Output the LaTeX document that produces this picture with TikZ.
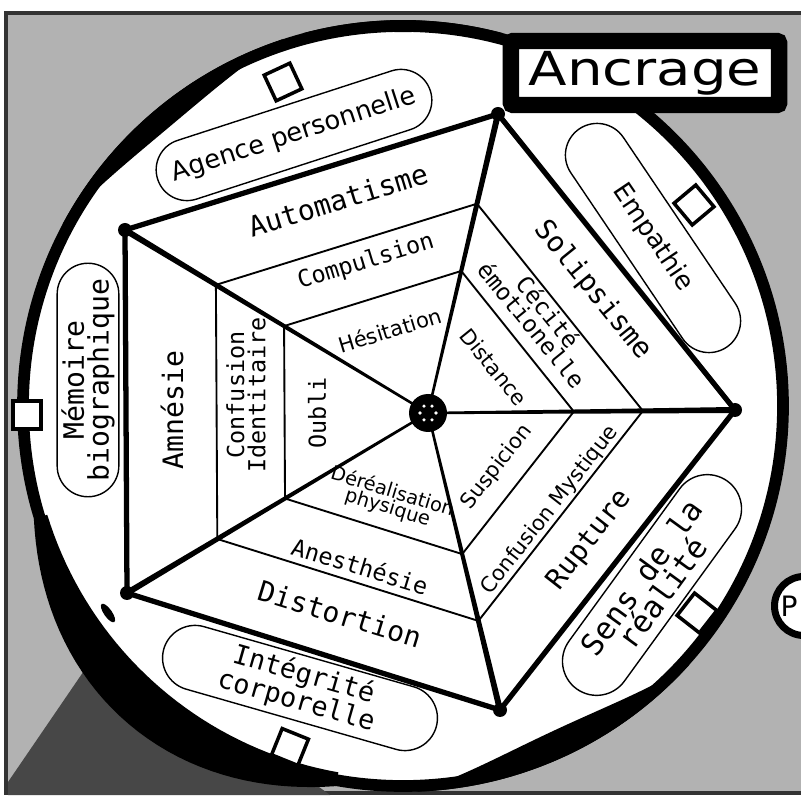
\documentclass[tikz,border=0pt]{standalone}
\usepackage{fontspec}
\setmainfont{DejaVu Sans}
\newfontfamily\monofont{DejaVu Sans Mono}
\newfontfamily\widefont[FakeStretch=1.2]{DejaVu Sans}
\usetikzlibrary{calc, shapes.misc}

\begin{document}
\begin{tikzpicture}[
    x=0.03cm, y=-0.03cm,
    edge/.style={line width=4.5pt, line join=round},
    band/.style={line width=1.6pt},
    biglabel/.style={font=\monofont\fontsize{24}{24}\selectfont},
    midlabel/.style={font=\monofont\fontsize{20}{18}\selectfont, align=center},
    smalllabel/.style={font=\fontsize{18}{15}\selectfont, align=center},
    pill/.style={rounded rectangle, draw, line width=1.2pt, fill=white, align=center, inner sep=0pt},
    monopill/.style={pill, font=\monofont\fontsize{23}{21}\selectfont},
    sanspill/.style={pill, font=\fontsize{22}{22}\selectfont},
    box/.style={draw, line width=3pt, fill=white, minimum size=0.85cm, inner sep=0pt}
  ]
  \clip (0,0) rectangle (801,796);
  \fill[white] (0,0) rectangle (801,796);

  % --- newspaper backdrop ---
  \filldraw[fill=black!30, draw=black!80, line width=4.2pt] (6,13) rectangle (830,793);
  \fill[black!72] (8,782) -- (90,662) -- (200,700) -- (330,795) -- (8,795) -- cycle;

  % --- dial ---
  \coordinate (c) at (403,406);
  \filldraw[fill=white, draw=black, line width=10pt] (c) circle (380);
  % ink spreading out of the rim, lower left
  \fill plot[domain=100:163, samples=40] ({403+(386+34*sin(180*(\x-100)/63))*cos(\x)},
                                        {406+(386+34*sin(180*(\x-100)/63))*sin(\x)})
    -- plot[domain=163:100, samples=40] ({403+372*cos(\x)}, {406+372*sin(\x)}) -- cycle;
  % heavier ink on other parts of the rim
  \foreach \s/\e/\w in {42/88/28, 208/252/22, 255/285/12} {
    \fill plot[domain=\s:\e, samples=30] ({403+386*cos(\x)}, {406+386*sin(\x)})
      -- plot[domain=\e:\s, samples=30] ({403+(386-\w*sin(180*(\x-\s)/(\e-\s)))*cos(\x)},
                                         {406+(386-\w*sin(180*(\x-\s)/(\e-\s)))*sin(\x)}) -- cycle;
  }
  \fill[rotate around={-55:(108,613)}] (108,613) ellipse (11 and 4);

  % --- pentagon ---
  \coordinate (hub) at (428,413);
  \coordinate (top) at (498,114);
  \coordinate (right) at (735,410);
  \coordinate (bottom) at (500,710);
  \coordinate (lowleft) at (127,593);
  \coordinate (upleft) at (125,230);

  \foreach \a/\b in {upleft/top, top/right, right/bottom, bottom/lowleft, lowleft/upleft} {
    \draw[band] ($(hub)!0.70!(\a)$) -- ($(hub)!0.70!(\b)$);
    \draw[band] ($(hub)!0.475!(\a)$) -- ($(hub)!0.475!(\b)$);
  }
  \foreach \v in {top, right, bottom, lowleft, upleft}
    \fill ($(hub)!1pt!90:(\v)$) -- ($(\v)!2.6pt!-90:(hub)$) -- ($(\v)!2.6pt!90:(hub)$) -- ($(hub)!1pt!-90:(\v)$) -- cycle;
  \draw[edge] (upleft) -- (top) -- (right) -- (bottom) -- (lowleft) -- cycle;
  \foreach \v in {top, right, bottom, lowleft, upleft}
    \fill (\v) circle (7);
  \fill (hub) circle (19);
  \foreach \k in {0,60,...,300}
    \fill[white] ($(hub)+(\k:8)$) circle (1.8);

  % --- band labels ---
  \node[biglabel, rotate=17] (automatisme) at (338,200) {Automatisme};
  \node[midlabel, rotate=17] (compulsion) at (366,262) {Compulsion};
  \node[smalllabel, rotate=17] (hesitation) at (390,330) {Hésitation};

  \node[biglabel, rotate=90] (amnesie) at (172,410) {Amnésie};
  \node[midlabel, rotate=90] (confusionid) at (246,395) {Confusion\\Identitaire};
  \node[midlabel, rotate=90] (oubli) at (317,413) {Oubli};

  \node[biglabel, rotate=-17] (distortion) at (340,614) {Distortion};
  \node[midlabel, rotate=-17] (anesthesie) at (360,566) {Anesthésie};
  \node[smalllabel, rotate=-17, font=\fontsize{16.5}{14}\selectfont] (derealisation) at (390,500) {Déréalisation\\physique};

  \node[biglabel, rotate=52] (rupture) at (590,540) {Rupture};
  \node[smalllabel, rotate=52] (confusionmy) at (550,510) {Confusion Mystique};
  \node[smalllabel, rotate=52] (suspicion) at (497,467) {Suspicion};

  \node[biglabel, rotate=-51] (solipsisme) at (593,290) {Solipsisme};
  \node[midlabel, rotate=-51] (cecite) at (540,318) {Cécité\\émotionelle};
  \node[smalllabel, rotate=-51] (distance) at (494,367) {Distance};

  % --- outer pills ---
  \node[sanspill, rotate=18, minimum width=8.6cm, minimum height=1.85cm] (agence) at (294,135) {Agence personnelle};
  \node[sanspill, rotate=-56, minimum width=7.9cm, minimum height=1.9cm] (empathie) at (653,238) {Empathie};
  \node[monopill, rotate=90, minimum width=7cm, minimum height=1.85cm, font=\monofont\fontsize{24}{21}\selectfont] (memoire) at (88,380) {Mémoire\\biographique};
  \node[monopill, rotate=54, minimum width=7.7cm, minimum height=2.05cm, font=\monofont\fontsize{26}{22}\selectfont] (sens) at (652,585) {Sens de la\\réalité};
  \node[monopill, rotate=-16, minimum width=8.5cm, minimum height=1.95cm] (integrite) at (300,688) {Intégrité\\corporelle};

  % --- small squares on the rim ---
  \node[box, rotate=25] (boxagence) at (283,82) {};
  \node[box] (boxmemoire) at (27,415) {};
  \node[box, rotate=40] (boxempathie) at (694,205) {};
  \node[box, rotate=-38] (boxsens) at (697,613) {};
  \node[box, rotate=-22] (boxintegrite) at (290,747) {};

  % --- title and side tab ---
  \node[draw, line width=14pt, fill=white, rounded corners=2pt, minimum width=8.05cm, minimum height=1.92cm,
        font=\widefont\fontsize{40}{40}\selectfont] (ancrage) at (645,73) {Ancrage};
  \node[rounded rectangle, draw, line width=6pt, fill=white, minimum height=1.77cm, text width=1.4cm,
        align=left, anchor=west, font=\fontsize{24}{24}\selectfont] (ptab) at (771,606) {P};
\end{tikzpicture}
\end{document}
